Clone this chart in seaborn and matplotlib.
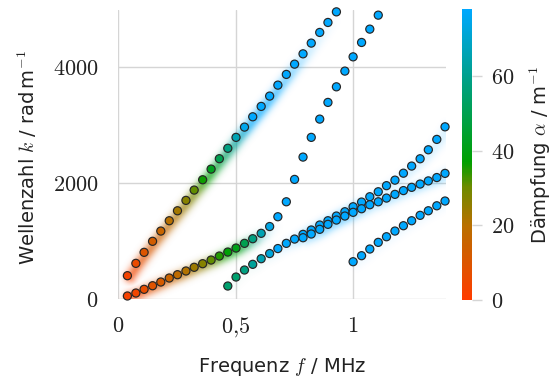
import numpy as np
import pandas as pd
import matplotlib
matplotlib.use("Agg")
import matplotlib.pyplot as plt
import seaborn as sns
from matplotlib.colors import LinearSegmentedColormap, Normalize
from matplotlib.cm import ScalarMappable

# --- data (frequency in MHz, wavenumber in rad/m, damping in 1/m) ---
freq_a = [0.040, 0.076, 0.111, 0.147, 0.182, 0.218, 0.253, 0.289, 0.324, 0.360,
          0.396, 0.431, 0.467, 0.502, 0.538, 0.573, 0.609, 0.645, 0.680, 0.716,
          0.751, 0.787, 0.822, 0.858, 0.893, 0.929]
k_a = [402, 615, 805, 995, 1172, 1350, 1522, 1701, 1879, 2057,
       2241, 2420, 2600, 2788, 2965, 3143, 3322, 3500, 3689, 3874,
       4051, 4229, 4414, 4598, 4770, 4953]
damp_a = [3, 6, 10, 13, 16, 20, 23, 27, 31, 36,
          42, 50, 58, 66, 75, 80, 80, 80, 80, 80,
          80, 80, 80, 80, 80, 80]
streak_a = [1, 1, 1, 1, 1, 1, 1, 1, 1, 1,
            1, 1, 1, 1, 1, 1, 1, 0.9, 0.8, 0.7,
            0.55, 0.4, 0.3, 0.2, 0.1, 0.0]

freq_b = [0.040, 0.076, 0.111, 0.147, 0.182, 0.218, 0.253, 0.289, 0.324, 0.360,
          0.396, 0.431, 0.467, 0.502, 0.538, 0.573, 0.609, 0.645, 0.680, 0.716,
          0.751, 0.787, 0.822, 0.858, 0.893, 0.929, 0.965, 1.000, 1.036, 1.071,
          1.107]
k_b = [52, 103, 167, 229, 293, 362, 419, 483, 547, 609,
       672, 741, 810, 879, 960, 1040, 1133, 1250, 1419, 1677,
       2063, 2448, 2788, 3103, 3391, 3660, 3931, 4177, 4425, 4655,
       4896]
damp_b = [2, 4, 7, 9, 12, 15, 18, 21, 24, 27,
          31, 35, 38, 41, 50, 58, 66, 74, 80, 80,
          80, 80, 80, 80, 80, 80, 80, 80, 80, 80,
          80]
streak_b = [1, 1, 1, 1, 1, 1, 1, 1, 1, 1,
            1, 1, 1, 1, 0.9, 0.7, 0.4, 0.15, 0, 0,
            0, 0, 0, 0, 0, 0, 0, 0, 0, 0,
            0]

freq_c = [0.467, 0.502, 0.538, 0.573, 0.609, 0.645, 0.680, 0.716, 0.751, 0.787,
          0.822, 0.858, 0.893, 0.929, 0.965, 1.000, 1.036, 1.071, 1.107, 1.142,
          1.178, 1.214, 1.249, 1.285, 1.320, 1.356, 1.391]
k_c = [224, 379, 500, 598, 695, 784, 870, 960, 1034, 1115,
       1190, 1276, 1350, 1431, 1505, 1591, 1672, 1764, 1850, 1955,
       2050, 2170, 2293, 2419, 2574, 2753, 2970]
damp_c = [55, 55, 58, 62, 66, 72, 80, 80, 80, 80,
          80, 80, 80, 80, 80, 80, 80, 80, 80, 80,
          80, 80, 80, 80, 80, 80, 80]
streak_c = [0.1, 0.1, 0.1, 0.15, 0.15, 0.2, 0.2, 0.3, 0.5, 0.7,
            0.8, 0.85, 0.85, 0.85, 0.8, 0.7, 0.5, 0.35, 0.3, 0.3,
            0.3, 0.3, 0.3, 0.3, 0.3, 0.3, 0.3]

freq_e = [0.787, 0.822, 0.858, 0.893, 0.929, 0.965, 1.000, 1.036, 1.071, 1.107,
          1.142, 1.178, 1.214, 1.249, 1.285, 1.320, 1.356, 1.391]
k_e = [1057, 1121, 1202, 1288, 1362, 1431, 1495, 1557, 1626, 1677,
       1741, 1805, 1870, 1926, 1983, 2037, 2095, 2167]
damp_e = [80] * len(freq_e)
streak_e = [0.5, 0.6, 0.7, 0.7, 0.7, 0.7, 0.6, 0.5, 0.45, 0.45,
            0.45, 0.45, 0.45, 0.5, 0.5, 0.5, 0.5, 0.5]

freq_d = [1.000, 1.036, 1.071, 1.107, 1.142, 1.178, 1.214, 1.249, 1.285, 1.320,
          1.356, 1.391]
k_d = [643, 747, 862, 977, 1074, 1172, 1264, 1350, 1443, 1522, 1608, 1690]
damp_d = [80] * len(freq_d)
streak_d = [0.15] * len(freq_d)

branches = [
    (freq_a, k_a, damp_a, streak_a),
    (freq_b, k_b, damp_b, streak_b),
    (freq_c, k_c, damp_c, streak_c),
    (freq_e, k_e, damp_e, streak_e),
    (freq_d, k_d, damp_d, streak_d),
]

df = pd.concat(
    [pd.DataFrame({'f': f, 'k': k, 'alpha': a}) for f, k, a, _ in branches],
    ignore_index=True)

# --- style ---
sns.set_theme(style="whitegrid")
plt.rcParams['font.family'] = ['DejaVu Sans']
plt.rcParams['mathtext.fontset'] = 'cm'
grid_col = '#d5d5d5'

cmap = LinearSegmentedColormap.from_list('daempfung', [
    (0.0, '#ff3c00'), (20 / 78, '#b87000'), (30 / 78, '#6f8a00'),
    (37 / 78, '#00a000'), (60 / 78, '#00a08c'), (1.0, '#00a8ff')])
norm = Normalize(0, 78)

xmax, ymax = 1.393, 4985

fig = plt.figure(figsize=(5.56, 3.81), dpi=100)
ax = fig.add_axes([118 / 556, 1 - 299 / 381, 327.5 / 556, 289 / 381])

# --- blurred background streaks along the branches ---
W, H = 330, 290
sx, sy = W / xmax, H / ymax
PX, PY = np.meshgrid(np.arange(W) + 0.5, np.arange(H) + 0.5)
inten = np.zeros((H, W))
dmap = np.zeros((H, W))
sigma = 5.0
for f, k, a, w in branches:
    x = np.array(f) * sx + 3.0
    y = np.array(k) * sy - 1.0
    for j in range(len(f) - 1):
        dx, dy = x[j + 1] - x[j], y[j + 1] - y[j]
        t = np.clip(((PX - x[j]) * dx + (PY - y[j]) * dy) / (dx * dx + dy * dy), 0, 1)
        d2 = (PX - x[j] - t * dx) ** 2 + (PY - y[j] - t * dy) ** 2
        val = (w[j] + (w[j + 1] - w[j]) * t) * np.exp(-d2 / (2 * sigma ** 2))
        m = val > inten
        inten[m] = val[m]
        dmap[m] = (a[j] + (a[j + 1] - a[j]) * t)[m]
rgba = cmap(norm(dmap))
rgba[..., 3] = np.clip(inten, 0, 1) ** 1.3 * 0.65
ax.imshow(rgba, extent=[0, xmax, 0, ymax], origin='lower', aspect='auto',
          interpolation='bilinear', zorder=1)

# --- dispersion points ---
sns.scatterplot(data=df, x='f', y='k', hue='alpha', palette=cmap, hue_norm=norm,
                s=34, edgecolor='#262626', linewidth=0.85, legend=False,
                ax=ax, zorder=3, clip_on=False)

ax.set_xlim(0, xmax)
ax.set_ylim(0, ymax)
ax.set_xticks([0, 0.5, 1], labels=['$0$', '$0{,}5$', '$1$'])
ax.set_yticks([0, 2000, 4000], labels=['$0$', '$2000$', '$4000$'])
ax.grid(True, color=grid_col, linewidth=1.0)
ax.set_axisbelow(True)
for sp in ax.spines.values():
    sp.set_visible(False)
ax.tick_params(axis='both', length=7, width=1.0, color=grid_col,
               labelsize=16, labelcolor='#222222')
ax.tick_params(axis='x', pad=5)
ax.tick_params(axis='y', pad=7)
ax.set_xlabel('')
ax.set_ylabel('')

fig.text(282 / 556, 1 - 367 / 381, 'Frequenz $f$ / MHz', ha='center', va='center',
         fontsize=14, color='#222222')
fig.text(27 / 556, 1 - 157 / 381, 'Wellenzahl $k$ / rad$\\,$m$^{-1}$', ha='center',
         va='center', rotation=90, fontsize=14, color='#222222')

# --- colorbar ---
cax = fig.add_axes([462 / 556, 1 - 300 / 381, 9.5 / 556, 291 / 381])
cb = fig.colorbar(ScalarMappable(norm=norm, cmap=cmap), cax=cax)
cb.outline.set_visible(False)
cb.set_ticks([0, 20, 40, 60], labels=['$0$', '$20$', '$40$', '$60$'])
cax.tick_params(length=7, width=1.0, color=grid_col, labelsize=16, pad=7,
                labelcolor='#222222')
cax.grid(False)
fig.text(540 / 556, 1 - 155 / 381, 'Dämpfung $\\alpha$ / m$^{-1}$', ha='center',
         va='center', rotation=90, fontsize=14, color='#222222')

fig.savefig('out.png', dpi=100)
